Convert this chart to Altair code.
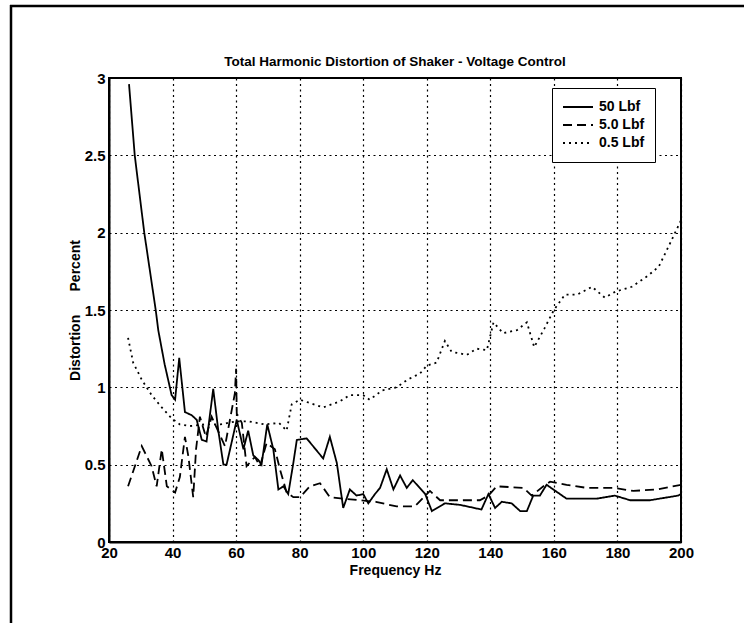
import altair as alt
import pandas as pd

# ---------------- data ----------------
series_names = ["50 Lbf", "5.0 Lbf", "0.5 Lbf"]

freq_50 = [26.3, 28.1, 31.1, 34.7, 35.5, 37.5, 39.7, 40.8, 42.1, 43.9,
           46.0, 47.6, 49.2, 50.7, 52.8, 54.4, 56.0, 57.0, 60.2, 62.3,
           63.8, 65.4, 67.0, 68.0, 69.8, 71.7, 73.3, 74.9, 76.4, 78.0,
           79.1, 82.2, 87.4, 89.5, 91.7, 93.7, 95.8, 97.9, 100.0, 101.6,
           103.7, 105.3, 107.4, 109.5, 111.6, 113.7, 115.6, 119.5, 121.6, 125.7,
           130.5, 137.2, 139.4, 141.5, 143.6, 146.7, 149.4, 151.5, 153.5, 155.6,
           157.7, 159.8, 164.0, 173.4, 179.2, 184.0, 190.2, 199.1, 200.0]
dist_50 = [2.96, 2.5, 2.0, 1.5, 1.37, 1.15, 0.95, 0.92, 1.19, 0.84,
           0.82, 0.79, 0.66, 0.65, 0.99, 0.72, 0.5, 0.5, 0.79, 0.6,
           0.72, 0.56, 0.53, 0.5, 0.76, 0.6, 0.34, 0.36, 0.31, 0.51,
           0.66, 0.67, 0.54, 0.68, 0.51, 0.22, 0.34, 0.3, 0.31, 0.25,
           0.31, 0.35, 0.47, 0.34, 0.43, 0.35, 0.40, 0.31, 0.2, 0.25,
           0.24, 0.21, 0.31, 0.22, 0.26, 0.25, 0.2, 0.2, 0.3, 0.3,
           0.37, 0.34, 0.28, 0.28, 0.3, 0.27, 0.27, 0.3, 0.31]

freq_5 = [26.0, 27.0, 30.3, 33.4, 35.0, 36.6, 38.2, 40.8, 42.3, 43.9,
          45.0, 46.5, 47.4, 48.6, 50.5, 52.3, 56.5, 59.6, 60.0, 60.2,
          61.8, 63.3, 65.9, 67.5, 69.6, 72.2, 73.8, 75.9, 78.0, 80.1,
          83.2, 86.4, 89.5, 93.7, 104.0, 110.5, 116.2, 121.0, 124.2, 136.7,
          139.4, 142.0, 150.4, 153.0, 156.7, 158.8, 164.0, 170.3, 178.7, 185.0,
          192.4, 200.0]
dist_5 = [0.36, 0.42, 0.62, 0.49, 0.36, 0.6, 0.36, 0.32, 0.42, 0.68,
          0.55, 0.29, 0.6, 0.81, 0.68, 0.81, 0.62, 0.96, 1.12, 0.83,
          0.77, 0.49, 0.55, 0.49, 0.64, 0.6, 0.47, 0.32, 0.29, 0.29,
          0.36, 0.38, 0.29, 0.28, 0.26, 0.23, 0.23, 0.33, 0.27, 0.27,
          0.3, 0.36, 0.35, 0.3, 0.36, 0.39, 0.37, 0.35, 0.35, 0.33,
          0.34, 0.37]

freq_05 = [26.0, 27.6, 30.3, 33.4, 36.6, 39.7, 42.3, 45.5, 50.0, 55.0,
           60.0, 64.0, 69.0, 73.5, 75.9, 77.5, 80.1, 83.0, 87.4, 92.7,
           95.8, 100.0, 102.0, 106.0, 110.5, 114.0, 117.9, 120.0, 123.1, 125.7,
           127.8, 132.6, 135.7, 138.9, 141.0, 144.0, 148.4, 151.5, 153.8, 157.0,
           160.0, 163.5, 167.4, 172.0, 176.0, 179.5, 184.5, 189.5, 193.0, 197.0,
           200.0]
dist_05 = [1.32, 1.16, 1.05, 0.95, 0.87, 0.8, 0.76, 0.75, 0.76, 0.76,
           0.78, 0.78, 0.76, 0.77, 0.72, 0.89, 0.92, 0.9, 0.87, 0.91,
           0.95, 0.95, 0.92, 0.98, 1.0, 1.05, 1.09, 1.14, 1.16, 1.3,
           1.23, 1.21, 1.25, 1.24, 1.42, 1.35, 1.37, 1.42, 1.26, 1.38,
           1.5, 1.6, 1.6, 1.65, 1.58, 1.62, 1.65, 1.72, 1.78, 1.95,
           2.08]

x_ticks = [20, 40, 60, 80, 100, 120, 140, 160, 180, 200]
y_ticks = [0, 0.5, 1, 1.5, 2, 2.5, 3]

title_text = "Total Harmonic Distortion of Shaker - Voltage Control"
x_title = "Frequency Hz"
y_title = "Distortion" + "\u00a0" * 6 + "Percent"

FONT = "Liberation Sans"

# ---------------- build table ----------------
rows = []
for name, xs, ys in zip(series_names, [freq_50, freq_5, freq_05], [dist_50, dist_5, dist_05]):
    for i, (xv, yv) in enumerate(zip(xs, ys)):
        rows.append({"series": name, "freq": xv, "dist": yv, "idx": i})
df = pd.DataFrame(rows)
one = pd.DataFrame({"k": [0]})

W, H = 572, 464

x_axis = alt.Axis(
    values=x_ticks, title=x_title, titleFont=FONT, titleFontSize=14, titleFontWeight="bold",
    titleColor="black", titleX=W / 2, titleY=28, titleBaseline="middle", titleAlign="center",
    labelFont=FONT, labelFontSize=15, labelFontWeight="bold", labelColor="black",
    labelPadding=3, labelFlush=False, labelOverlap=False, ticks=False,
    domainColor="black", domainWidth=2,
    grid=True, gridColor="black", gridDash=[2, 3.5], gridWidth=1.2, gridOpacity=1,
)
y_axis = alt.Axis(
    values=y_ticks, format="~g", title=y_title, titleFont=FONT, titleFontSize=14,
    titleFontWeight="bold", titleColor="black", titleX=-34, titleY=H / 2,
    titleBaseline="middle", titleAlign="center", titleAngle=270,
    labelFont=FONT, labelFontSize=15, labelFontWeight="bold", labelColor="black",
    labelPadding=4, labelFlush=False, labelOverlap=False, ticks=False,
    domainColor="black", domainWidth=2,
    grid=True, gridColor="black", gridDash=[2, 3.5], gridWidth=1.2, gridOpacity=1,
)

lines = alt.Chart(df).mark_line(color="black", strokeWidth=1.8, clip=True).encode(
    x=alt.X("freq:Q", scale=alt.Scale(domain=[20, 200], nice=False, zero=False), axis=x_axis),
    y=alt.Y("dist:Q", scale=alt.Scale(domain=[0, 3], nice=False), axis=y_axis),
    strokeDash=alt.StrokeDash(
        "series:N",
        scale=alt.Scale(domain=series_names, range=[[1, 0], [9, 5], [2, 4]]),
        legend=alt.Legend(
            orient="none", legendX=443, legendY=10, title=None, padding=10,
            fillColor="white", strokeColor="black",
            symbolType="stroke", symbolSize=900, symbolStrokeWidth=1.8,
            symbolStrokeColor="black", labelFont=FONT, labelFontSize=14,
            labelFontWeight="bold", labelColor="black", labelOffset=5,
            clipHeight=18, rowPadding=0,
        ),
    ),
    order=alt.Order("idx:Q"),
)

frame_top = alt.Chart(one).mark_rule(color="black", strokeWidth=2.5).encode(
    x=alt.value(-99), x2=alt.value(635), y=alt.value(-72)
)
frame_left = alt.Chart(one).mark_rule(color="black", strokeWidth=2.5).encode(
    x=alt.value(-98), y=alt.value(-73), y2=alt.value(545)
)
title_mark = alt.Chart(one).mark_text(
    font=FONT, fontSize=13.5, fontWeight="bold", color="black", align="center", baseline="middle"
).encode(x=alt.value(W / 2), y=alt.value(-16), text=alt.value(title_text))

chart = alt.layer(lines, frame_top, frame_left, title_mark).properties(
    width=W, height=H,
    padding={"left": 109, "top": 78, "right": 63, "bottom": 81},
    autosize=alt.AutoSizeParams(type="none"),
    background="white",
).configure_view(stroke="black", strokeWidth=2)

chart.save("out.html", embed_options={"renderer": "svg", "actions": False})
